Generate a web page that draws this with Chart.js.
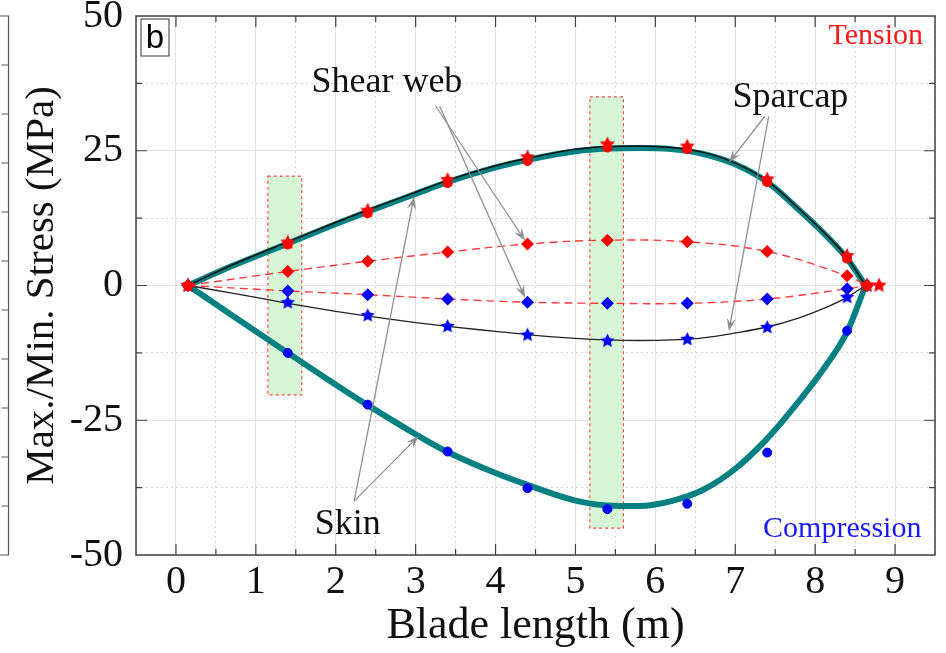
<!DOCTYPE html>
<html>
<head>
<meta charset="utf-8">
<script src="https://cdn.jsdelivr.net/npm/chart.js@4.4.1/dist/chart.umd.min.js"></script>
<style>
  html, body { margin: 0; padding: 0; background: #fff; }
</style>
</head>
<body>
<canvas id="stress" width="946" height="653"></canvas>
<script>
// stations along the blade where stresses were sampled (m)
const stationX = [0.15, 1.4, 2.4, 3.4, 4.4, 5.4, 6.4, 7.4, 8.4, 8.65];
const sparcapMax = [0, 8.0, 13.9, 19.6, 23.8, 26.2, 25.8, 19.7, 5.5, 0];
const sparcapMin = [0, -3.2, -5.6, -7.6, -9.2, -10.3, -10.0, -7.8, -2.2, 0];
const skinMax = [0, 7.6, 13.4, 19.0, 23.1, 25.6, 25.3, 19.2, 5.0, 0];
const skinMin = [0, -12.5, -22.1, -30.8, -37.6, -41.5, -40.5, -31.0, -8.4, 0];
const webMax = [0, 2.6, 4.5, 6.2, 7.7, 8.4, 8.1, 6.3, 1.8, 0];
const webMin = [0, -1.0, -1.7, -2.5, -3.1, -3.3, -3.3, -2.5, -0.6, 0];
const tipX = [8.8];
const tipStress = [0];

// fitted curves
const curveX = [0.15, 0.7, 1.4, 2.0, 2.4, 3.0, 3.4, 4.0, 4.4, 5.0, 5.4, 5.8, 6.2, 6.6, 7.0, 7.4, 7.8, 8.1, 8.4, 8.63];
const skinMaxCurve = [0, 3.6, 7.8, 11.4, 13.7, 17.0, 19.2, 21.9, 23.3, 24.9, 25.4, 25.5, 25.3, 24.4, 22.5, 19.2, 14.0, 9.8, 5.0, 0];
const sparcapMaxCurve = [0, 3.8, 8.1, 11.7, 14.0, 17.3, 19.5, 22.2, 23.6, 25.3, 25.8, 25.9, 25.6, 24.7, 22.7, 19.4, 14.2, 10.0, 5.2, 0];
const skinMinCurve = [0, -5.5, -12.5, -18.4, -22.2, -27.6, -30.9, -34.8, -37.0, -39.9, -40.8, -40.9, -40.0, -37.9, -34.0, -28.4, -21.4, -15.6, -8.6, 0];
const sparcapMinCurve = [0, -1.4, -3.3, -4.8, -5.7, -6.9, -7.6, -8.5, -9.1, -9.8, -10.1, -10.2, -10.1, -9.7, -8.8, -7.7, -6.0, -4.3, -2.2, 0];

// highlighted sections (m, MPa)
const zoneX = [[1.15, 1.575], [5.18, 5.6]];
const zoneY = [[-20.3, 20.3], [-45, 35]];

const SERIF = "'Liberation Serif', 'Times New Roman', serif";
const TEAL = '#008080';

const pts = (xs, ys) => xs.map((x, i) => ({ x, y: ys[i] }));

function makeStar(color, r) {
  const c = document.createElement('canvas');
  const s = Math.ceil(r * 2 + 2);
  c.width = s; c.height = s;
  const g = c.getContext('2d');
  g.fillStyle = color;
  g.beginPath();
  for (let i = 0; i < 10; i++) {
    const rad = i % 2 ? r * 0.48 : r;
    const a = -Math.PI / 2 + i * Math.PI / 5;
    g.lineTo(s / 2 + rad * Math.cos(a), s / 2 + rad * Math.sin(a));
  }
  g.closePath();
  g.fill();
  return c;
}
const redStar = makeStar('#ff0000', 8);
const blueStar = makeStar('#0000ff', 7.5);

// text labels and arrows, in data units
const notes = [
  { text: 'Shear web', x: 2.64, y: 37.6 },
  { text: 'Sparcap', x: 7.69, y: 34.8 },
  { text: 'Skin', x: 2.15, y: -44.4 },
];
const arrows = [
  [3.25, 33.3, 4.37, 8.3],
  [3.3, 33.3, 4.37, -2.3],
  [7.37, 31.4, 6.92, 22.8],
  [7.42, 31.4, 6.92, -8.5],
  [2.23, -40.0, 3.04, -27.9],
  [2.23, -40.0, 2.98, 16.5],
];

function drawArrow(ctx, x0, y0, x1, y1) {
  const a = Math.atan2(y1 - y0, x1 - x0);
  const len = 13, wid = 4.5;
  ctx.beginPath();
  ctx.moveTo(x0, y0);
  ctx.lineTo(x1 - Math.cos(a) * 6, y1 - Math.sin(a) * 6);
  ctx.stroke();
  ctx.beginPath();
  ctx.moveTo(x1, y1);
  ctx.lineTo(x1 - len * Math.cos(a) + wid * Math.sin(a), y1 - len * Math.sin(a) - wid * Math.cos(a));
  ctx.lineTo(x1 - 8 * Math.cos(a), y1 - 8 * Math.sin(a));
  ctx.lineTo(x1 - len * Math.cos(a) - wid * Math.sin(a), y1 - len * Math.sin(a) + wid * Math.cos(a));
  ctx.closePath();
  ctx.fill();
}

const decorations = {
  id: 'decorations',
  beforeDatasetsDraw(chart) {
    const { ctx, scales: { x, y } } = chart;
    ctx.save();
    zoneX.forEach((span, i) => {
      const l = x.getPixelForValue(span[0]);
      const r = x.getPixelForValue(span[1]);
      const t = y.getPixelForValue(zoneY[i][1]);
      const b = y.getPixelForValue(zoneY[i][0]);
      ctx.fillStyle = '#d6f7d6';
      ctx.fillRect(l, t, r - l, b - t);
      ctx.setLineDash([3, 3]);
      ctx.strokeStyle = '#ff4a4a';
      ctx.lineWidth = 1.2;
      ctx.strokeRect(l, t, r - l, b - t);
    });
    ctx.restore();
  },
  afterDatasetsDraw(chart) {
    const { ctx, chartArea: ca, scales: { x, y } } = chart;
    ctx.save();

    // arrows
    ctx.strokeStyle = '#8f8f8f';
    ctx.fillStyle = '#8f8f8f';
    ctx.lineWidth = 1.3;
    arrows.forEach(([ax, ay, bx, by]) => {
      drawArrow(ctx, x.getPixelForValue(ax), y.getPixelForValue(ay),
        x.getPixelForValue(bx), y.getPixelForValue(by));
    });

    // labels
    ctx.fillStyle = '#111';
    ctx.font = '36px ' + SERIF;
    ctx.textAlign = 'center';
    ctx.textBaseline = 'middle';
    notes.forEach(n => ctx.fillText(n.text, x.getPixelForValue(n.x), y.getPixelForValue(n.y)));

    ctx.font = '30px ' + SERIF;
    ctx.textAlign = 'right';
    ctx.fillStyle = '#ff1a1a';
    ctx.fillText('Tension', x.getPixelForValue(9.35), y.getPixelForValue(46.3));
    ctx.fillStyle = '#1a1aff';
    ctx.fillText('Compression', x.getPixelForValue(9.33), y.getPixelForValue(-45.2));

    // panel letter
    ctx.fillStyle = '#fff';
    ctx.fillRect(ca.left + 5, ca.top + 3, 28, 37);
    ctx.strokeStyle = '#555';
    ctx.lineWidth = 1.2;
    ctx.strokeRect(ca.left + 5, ca.top + 3, 28, 37);
    ctx.fillStyle = '#000';
    ctx.font = "33px 'Liberation Sans', Arial, sans-serif";
    ctx.textAlign = 'center';
    ctx.fillText('b', ca.left + 19, ca.top + 23);

    // frame with inward ticks
    ctx.strokeStyle = '#404040';
    ctx.lineWidth = 1.5;
    ctx.strokeRect(ca.left, ca.top, ca.right - ca.left, ca.bottom - ca.top);
    ctx.lineWidth = 1.2;
    ctx.beginPath();
    x.ticks.forEach(t => {
      if (t.value <= x.min || t.value >= x.max) return;
      const px = x.getPixelForValue(t.value);
      const len = Number.isInteger(t.value) ? 11 : 6;
      ctx.moveTo(px, ca.bottom); ctx.lineTo(px, ca.bottom - len);
      ctx.moveTo(px, ca.top); ctx.lineTo(px, ca.top + len);
    });
    y.ticks.forEach(t => {
      if (t.value <= y.min || t.value >= y.max) return;
      const py = y.getPixelForValue(t.value);
      const len = t.value % 25 === 0 ? 11 : 6;
      ctx.moveTo(ca.left, py); ctx.lineTo(ca.left + len, py);
      ctx.moveTo(ca.right, py); ctx.lineTo(ca.right - len, py);
    });
    ctx.stroke();

    // edge of the neighbouring panel on the left
    ctx.strokeStyle = '#555';
    ctx.beginPath();
    ctx.moveTo(0, ca.top); ctx.lineTo(8.5, ca.top); ctx.lineTo(8.5, ca.bottom); ctx.lineTo(0, ca.bottom);
    for (let k = 1; k < 11; k++) {
      const py = ca.top + k * (ca.bottom - ca.top) / 11;
      ctx.moveTo(1.5, py); ctx.lineTo(8.5, py);
    }
    ctx.stroke();
    ctx.restore();
  }
};

const curve = (ys, color, width) => ({
  data: pts(curveX, ys),
  showLine: true,
  borderColor: color,
  borderWidth: width,
  pointRadius: 0,
  cubicInterpolationMode: 'monotone',
});

new Chart(document.getElementById('stress'), {
  type: 'scatter',
  data: {
    datasets: [
      { label: 'Tip', data: pts(tipX, tipStress), pointStyle: redStar },
      { label: 'Sparcap max', data: pts(stationX, sparcapMax), pointStyle: redStar },
      { label: 'Skin max', data: pts(stationX, skinMax), pointStyle: 'circle', pointRadius: 4.5,
        backgroundColor: '#ff0000', borderColor: '#ff0000' },
      { label: 'Shear web max', data: pts(stationX, webMax), showLine: true, borderDash: [8, 5],
        borderColor: '#ff3b3b', borderWidth: 1.4, tension: 0.4,
        pointStyle: 'rectRot', pointRadius: 5.5, pointBackgroundColor: '#ff0000', pointBorderColor: '#ff0000' },
      { label: 'Shear web min', data: pts(stationX, webMin), showLine: true, borderDash: [8, 5],
        borderColor: '#ff3b3b', borderWidth: 1.4, tension: 0.4,
        pointStyle: 'rectRot', pointRadius: 5.5, pointBackgroundColor: '#0000ff', pointBorderColor: '#0000ff' },
      { label: 'Sparcap min', data: pts(stationX, sparcapMin), pointStyle: blueStar },
      { label: 'Skin min', data: pts(stationX, skinMin), pointStyle: 'circle', pointRadius: 4.5,
        backgroundColor: '#0000ff', borderColor: '#0000ff' },
      curve(sparcapMaxCurve, '#111', 1.5),
      curve(sparcapMinCurve, '#222', 1.3),
      curve(skinMaxCurve, TEAL, 6),
      curve(skinMinCurve, TEAL, 6),
    ]
  },
  options: {
    responsive: false,
    devicePixelRatio: 1,
    animation: false,
    layout: { padding: { top: 16, right: 11, left: 0, bottom: 0 } },
    plugins: { legend: { display: false }, tooltip: { enabled: false } },
    scales: {
      x: {
        type: 'linear',
        min: -0.5,
        max: 9.5,
        afterFit(scale) { scale.height = 98; scale.paddingLeft = 0; scale.paddingRight = 0; },
        ticks: {
          stepSize: 0.5,
          autoSkip: false,
          maxRotation: 0,
          padding: 3,
          color: '#111',
          font: { family: SERIF, size: 40 },
          callback: v => (Number.isInteger(v) && v >= 0 ? String(v) : ''),
        },
        grid: {
          drawTicks: false,
          lineWidth: 1,
          color: c => (c.tick && Number.isInteger(c.tick.value) ? '#e2e2e2' : '#d4d4d4'),
        },
        border: { display: false, dash: c => (c.tick && !Number.isInteger(c.tick.value) ? [2, 3] : []) },
        title: {
          display: true,
          text: 'Blade length (m)',
          color: '#111',
          font: { family: SERIF, size: 44 },
          padding: { top: 0, bottom: 0 },
        },
      },
      y: {
        type: 'linear',
        min: -50,
        max: 50,
        afterFit(scale) { scale.width = 136; scale.paddingTop = 0; scale.paddingBottom = 0; },
        ticks: {
          stepSize: 12.5,
          autoSkip: false,
          padding: 13,
          color: '#111',
          font: { family: SERIF, size: 40 },
          callback: v => (v % 25 === 0 ? String(v) : ''),
        },
        grid: {
          drawTicks: false,
          lineWidth: 1,
          color: c => (c.tick && c.tick.value % 25 === 0 ? '#e2e2e2' : '#d4d4d4'),
        },
        border: { display: false, dash: c => (c.tick && c.tick.value % 25 !== 0 ? [2, 3] : []) },
        title: {
          display: true,
          text: 'Max./Min. Stress (MPa)',
          color: '#111',
          font: { family: SERIF, size: 41 },
          padding: { top: 18, bottom: 0 },
        },
      },
    },
  },
  plugins: [decorations],
});
</script>
</body>
</html>
